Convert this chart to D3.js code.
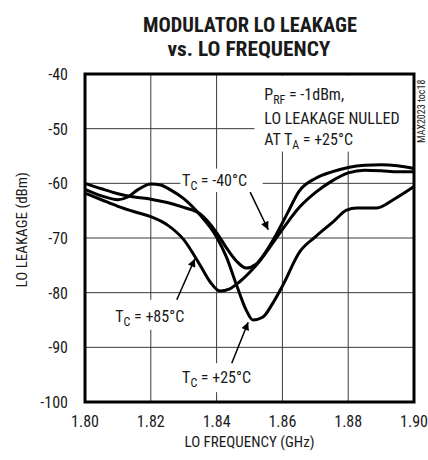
<!DOCTYPE html>
<html>
<head>
  <meta charset="utf-8" />
  <script src="https://d3js.org/d3.v7.min.js"></script>
  <style>
    body { margin: 0; background: white; }
    text { font-family: "Liberation Sans Narrow", "Roboto Condensed", "DejaVu Sans Condensed", sans-serif; fill: #1a1a1a; }
  </style>
</head>
<body>
  <div id="chart"></div>
  <script>
    // values
    const xTicks = [1.80, 1.82, 1.84, 1.86, 1.88, 1.90];
    const yTicks = [-40, -50, -60, -70, -80, -90, -100];

    const freqM40 = [1.800, 1.805, 1.810, 1.815, 1.820, 1.825, 1.830, 1.835, 1.840, 1.843, 1.846, 1.849, 1.852, 1.855, 1.858, 1.8615, 1.865, 1.870, 1.875, 1.880, 1.885, 1.890, 1.895, 1.900];
    const leakM40 = [-60.0, -61.0, -61.9, -62.5, -62.9, -63.5, -64.4, -65.6, -69.0, -71.8, -74.2, -75.5, -74.8, -72.5, -69.5, -65.5, -61.5, -59.1, -57.9, -57.1, -56.7, -56.6, -56.8, -57.3];

    const freqP25 = [1.800, 1.805, 1.810, 1.813, 1.816, 1.820, 1.823, 1.826, 1.830, 1.835, 1.840, 1.843, 1.846, 1.849, 1.851, 1.854, 1.857, 1.860, 1.8653, 1.870, 1.8755, 1.8795, 1.8826, 1.8887, 1.8937, 1.900];
    const leakP25 = [-61.1, -62.3, -63.0, -62.5, -61.2, -60.1, -60.3, -61.2, -62.8, -65.8, -69.8, -73.5, -78.5, -83.2, -85.0, -84.5, -82.0, -78.8, -72.5, -69.8, -67.0, -64.9, -64.5, -64.5, -63.0, -60.6];

    const freqP85 = [1.800, 1.805, 1.810, 1.815, 1.820, 1.825, 1.830, 1.835, 1.838, 1.841, 1.844, 1.847, 1.850, 1.853, 1.857, 1.861, 1.8653, 1.870, 1.875, 1.880, 1.885, 1.890, 1.895, 1.900];
    const leakP85 = [-61.8, -63.0, -64.2, -65.2, -66.1, -67.6, -70.3, -75.0, -78.0, -79.7, -79.3, -78.0, -76.3, -74.3, -71.0, -67.6, -64.3, -61.7, -59.6, -58.1, -57.6, -57.7, -57.9, -57.9];

    const width = 428, height = 460;
    const margin = { left: 85, right: 14, top: 74, bottom: 58 };

    const svg = d3.select("#chart").append("svg")
      .attr("width", width)
      .attr("height", height);

    const x = d3.scaleLinear().domain([1.80, 1.90]).range([margin.left, width - margin.right]);
    const y = d3.scaleLinear().domain([-100, -40]).range([height - margin.bottom, margin.top]);

    // title
    svg.append("text").attr("x", 250).attr("y", 32).attr("text-anchor", "middle")
      .style("font-weight", "bold").style("font-size", "21px")
      .attr("textLength", 214).attr("lengthAdjust", "spacingAndGlyphs")
      .text("MODULATOR LO LEAKAGE");
    svg.append("text").attr("x", 249).attr("y", 56).attr("text-anchor", "middle")
      .style("font-weight", "bold").style("font-size", "21px")
      .attr("textLength", 163).attr("lengthAdjust", "spacingAndGlyphs")
      .text("vs. LO FREQUENCY");

    // grid
    const grid = svg.append("g").attr("stroke", "#3a3a3a").attr("stroke-width", 1);
    grid.selectAll(".gx").data(xTicks.slice(1, -1)).enter().append("line")
      .attr("x1", d => x(d)).attr("x2", d => x(d))
      .attr("y1", y(-40)).attr("y2", y(-100));
    grid.selectAll(".gy").data(yTicks.slice(1, -1)).enter().append("line")
      .attr("x1", x(1.80)).attr("x2", x(1.90))
      .attr("y1", d => y(d)).attr("y2", d => y(d));

    // white boxes behind annotations
    const boxes = [
      [1.8515, 1.8995, -40.3, -54.2],
      [1.8290, 1.8540, -57.3, -61.6],
      [1.8085, 1.8320, -81.3, -86.8],
      [1.8290, 1.8510, -92.9, -98.2]
    ];
    svg.selectAll(".box").data(boxes).enter().append("rect")
      .attr("x", d => x(d[0])).attr("y", d => y(d[2]))
      .attr("width", d => x(d[1]) - x(d[0])).attr("height", d => y(d[3]) - y(d[2]))
      .attr("fill", "white");

    // tick labels
    svg.selectAll(".yl").data(yTicks).enter().append("text")
      .attr("x", 68).attr("y", d => y(d) + 6)
      .attr("text-anchor", "end").style("font-size", "16px")
      .text(d => d);
    svg.selectAll(".xl").data(xTicks).enter().append("text")
      .attr("x", d => x(d)).attr("y", y(-100) + 25)
      .attr("text-anchor", "middle").style("font-size", "16px")
      .text(d => d.toFixed(2));

    svg.append("text").attr("x", x(1.85)).attr("y", 447).attr("text-anchor", "middle")
      .style("font-size", "15px").text("LO FREQUENCY (GHz)");
    svg.append("text").attr("transform", `translate(27, ${y(-68.5)}) rotate(-90)`)
      .attr("text-anchor", "middle").style("font-size", "15px").text("LO LEAKAGE (dBm)");

    svg.append("text").attr("transform", `translate(425, 143) rotate(-90)`)
      .style("font-size", "10px").text("MAX2023 toc18");

    // curves
    const line = d3.line().x(d => x(d[0])).y(d => y(d[1])).curve(d3.curveMonotoneX);
    const series = [
      d3.zip(freqM40, leakM40),
      d3.zip(freqP25, leakP25),
      d3.zip(freqP85, leakP85)
    ];
    svg.selectAll(".curve").data(series).enter().append("path")
      .attr("d", line).attr("fill", "none").attr("stroke", "black")
      .attr("stroke-width", 3).attr("stroke-linejoin", "round");

    // frame
    svg.append("rect").attr("x", x(1.80)).attr("y", y(-40))
      .attr("width", x(1.90) - x(1.80)).attr("height", y(-100) - y(-40))
      .attr("fill", "none").attr("stroke", "black").attr("stroke-width", 3);

    // annotation text
    function tc(g, px, py, main, sub, rest) {
      const t = g.append("text").attr("x", px).attr("y", py).style("font-size", "16px");
      t.append("tspan").text(main);
      t.append("tspan").attr("dy", 4).style("font-size", "12px").text(sub);
      t.append("tspan").attr("dy", -4).text(rest);
      return t;
    }
    tc(svg, x(1.8295), y(-60.5), "T", "C", " = -40°C");
    tc(svg, x(1.8092), y(-85.3), "T", "C", " = +85°C");
    tc(svg, x(1.8295), y(-96.6), "T", "C", " = +25°C");

    tc(svg, x(1.8545), y(-44.8), "P", "RF", " = -1dBm,");
    svg.append("text").attr("x", x(1.8545)).attr("y", y(-49.2)).style("font-size", "16px").text("LO LEAKAGE NULLED");
    tc(svg, x(1.8545), y(-53.0), "AT T", "A", " = +25°C");

    // arrows
    svg.append("defs").append("marker").attr("id", "ah")
      .attr("viewBox", "0 0 10 10").attr("refX", 10).attr("refY", 5)
      .attr("markerWidth", 12).attr("markerHeight", 8).attr("markerUnits", "userSpaceOnUse")
      .attr("orient", "auto")
      .append("path").attr("d", "M0,0 L10,5 L0,10 z").attr("fill", "black");
    const arrows = [
      [1.8502, -61.6, 1.8557, -68.5],
      [1.8279, -81.3, 1.8334, -73.8],
      [1.8446, -92.9, 1.8496, -85.4]
    ];
    svg.selectAll(".arrow").data(arrows).enter().append("line")
      .attr("x1", d => x(d[0])).attr("y1", d => y(d[1]))
      .attr("x2", d => x(d[2])).attr("y2", d => y(d[3]))
      .attr("stroke", "black").attr("stroke-width", 1.5)
      .attr("marker-end", "url(#ah)");
  </script>
</body>
</html>
